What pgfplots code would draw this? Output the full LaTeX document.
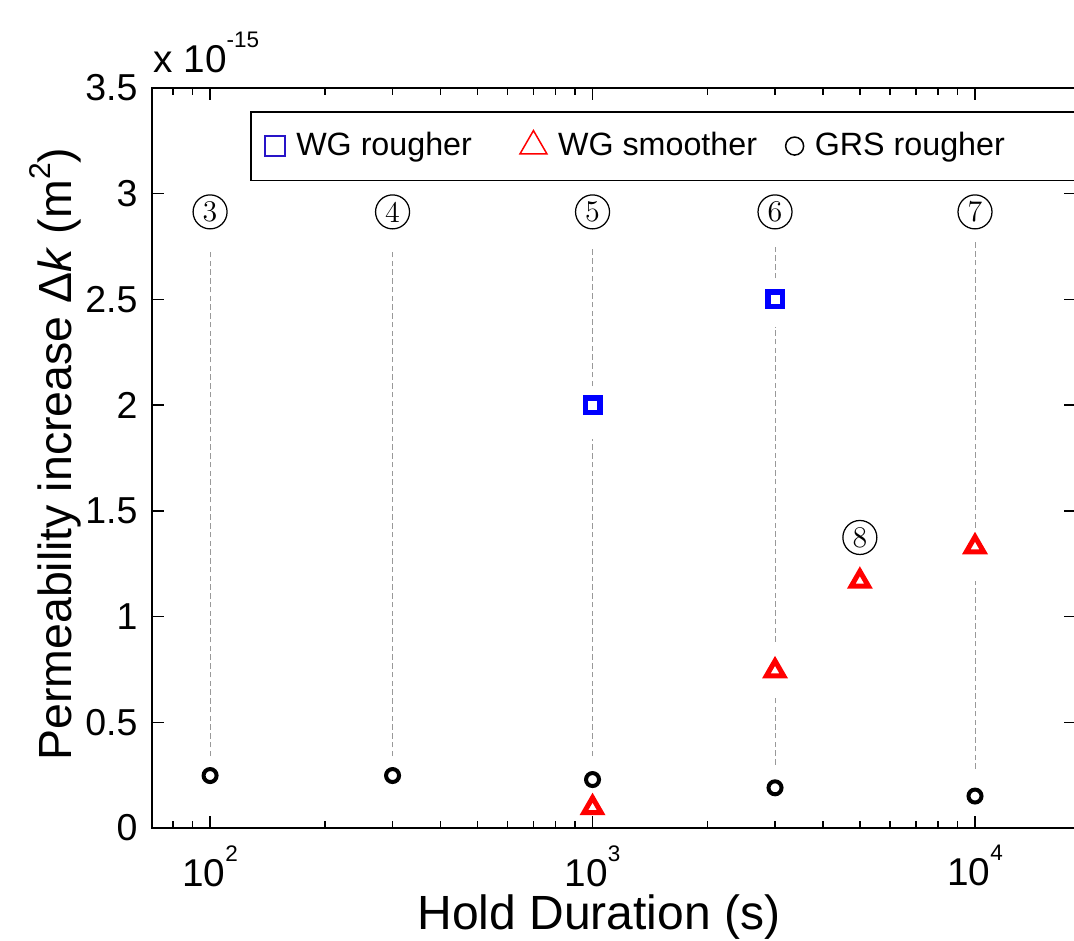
\documentclass[border=0pt]{standalone}
\usepackage{fontspec}
\newfontfamily\arial{Liberation Sans}
\usepackage{pgfplots}
\pgfplotsset{compat=1.18}
\usetikzlibrary{calc}
% superscript the way the figure sets it: small and raised high
\newcommand{\expo}[1]{\raisebox{10pt}{\fontsize{9}{9}\selectfont #1}}

\begin{document}
\begin{tikzpicture}
\begin{axis}[
  xmode=log,
  scale only axis,
  width=369.6pt, height=296pt,
  xmin=70.5, xmax=18370,
  ymin=0, ymax=3.5,
  clip=false,
  axis line style={line width=0.6pt},
  every tick/.style={black, line width=0.6pt},
  major tick length=4.7pt, minor tick length=2.8pt,
  xtick={100,1000,10000},
  xticklabels={10\expo{2},10\expo{3},10\expo{4}},
  minor xtick={80,90,200,300,400,500,600,700,800,900,2000,3000,4000,5000,6000,7000,8000,9000},
  ytick={0,0.5,1,1.5,2,2.5,3,3.5},
  /pgf/number format/assume math mode=true,
  xticklabel style={font=\arial\fontsize{15.5}{16}\selectfont, inner sep=0pt, anchor=north},
  yticklabel style={font=\arial\fontsize{15}{16}\selectfont, inner sep=0pt, anchor=east},
  xticklabel shift=6.8pt, yticklabel shift=5.6pt,
  xlabel={Hold Duration (s)},
  ylabel={Permeability increase Δ\textit{k} (m\raisebox{0.45em}{\fontsize{12}{12}\selectfont 2})},
  xlabel style={font=\arial\fontsize{19.2}{24}\selectfont, at={(axis description cs:0.4838,-0.1378)}, anchor=base},
  ylabel style={font=\arial\fontsize{18.6}{24}\selectfont, at={(axis description cs:-0.105,0.505)}, anchor=center},
  legend columns=3,
  legend style={at={(rel axis cs:0.1061,0.9689)}, anchor=north west,
    font=\arial\fontsize{12.9}{14}\selectfont, draw=black, line width=0.6pt,
    inner xsep=5.7pt, inner ysep=6.3pt,
    /tikz/every even column/.append style={column sep=0pt},
    nodes={inner xsep=4.5pt, inner ysep=2pt}},
  legend image code/.code={\draw[mark repeat=2,mark phase=2,#1] plot coordinates {(0pt,0pt)(4.5pt,0pt)(9pt,0pt)};},
]
  % legend entries
  \addlegendimage{only marks, mark=square, mark size=4pt, line width=0.6pt, color={rgb,255:red,40;green,20;blue,200}}
  \addlegendentry{\makebox[85pt][l]{WG rougher}}
  \addlegendimage{only marks, mark=triangle, mark size=6.2pt, line width=0.6pt, red}
  \addlegendentry{\makebox[86.5pt][l]{WG smoother}}
  \addlegendimage{only marks, mark=o, mark size=3.6pt, line width=0.6pt, black}
  \addlegendentry{\makebox[94.5pt][l]{GRS rougher}}

  % dashed guide lines
  \pgfplotsset{guide/.style={black!40, line width=0.4pt, dash pattern=on 2.2pt off 1.3pt, forget plot}}
  \addplot[guide] coordinates {(100,0.34)(100,2.74)};
  \addplot[guide] coordinates {(300,0.34)(300,2.74)};
  \addplot[guide] coordinates {(1000,0.34)(1000,1.84)};
  \addplot[guide] coordinates {(1000,2.09)(1000,2.74)};
  \addplot[guide] coordinates {(3000,0.30)(3000,0.63)};
  \addplot[guide] coordinates {(3000,0.88)(3000,2.37)};
  \addplot[guide] coordinates {(3000,2.60)(3000,2.76)};
  \addplot[guide] coordinates {(10000,0.28)(10000,1.17)};
  \addplot[guide] coordinates {(10000,1.42)(10000,2.77)};

  % data
  \addplot[only marks, mark=square, blue, mark size=2.9pt, line width=2.2pt, forget plot]
    coordinates {(1000,2.0)(3000,2.5)};
  \addplot[only marks, mark=triangle, red, mark size=4pt, line width=2pt, forget plot]
    coordinates {(1000,0.096)(3000,0.743)(5000,1.167)(10000,1.33)};
  \addplot[only marks, mark=o, black, mark size=2.6pt, line width=1.6pt, forget plot]
    coordinates {(100,0.248)(300,0.248)(1000,0.229)(3000,0.19)(10000,0.151)};

  % circled test numbers
  \tikzset{num/.style={circle, draw, line width=0.5pt, minimum size=13.6pt, inner sep=0pt, font=\fontsize{12}{12}\selectfont}}
  \node[num] at (axis cs:100,2.914) {3};
  \node[num] at (axis cs:300,2.914) {4};
  \node[num] at (axis cs:1000,2.914) {5};
  \node[num] at (axis cs:3000,2.914) {6};
  \node[num] at (axis cs:10000,2.914) {7};
  \node[num] at (axis cs:5000,1.374) {8};

  \node[anchor=base west, inner sep=0pt, font=\arial\fontsize{15.5}{16}\selectfont]
    at ($(rel axis cs:0,1)+(0.4pt,6pt)$) {x 10\expo{-15}};
\end{axis}
\pgfresetboundingbox
\path[use as bounding box] (-60.8pt,-45.2pt) rectangle (368.8pt,331.2pt);
\end{tikzpicture}
\end{document}
